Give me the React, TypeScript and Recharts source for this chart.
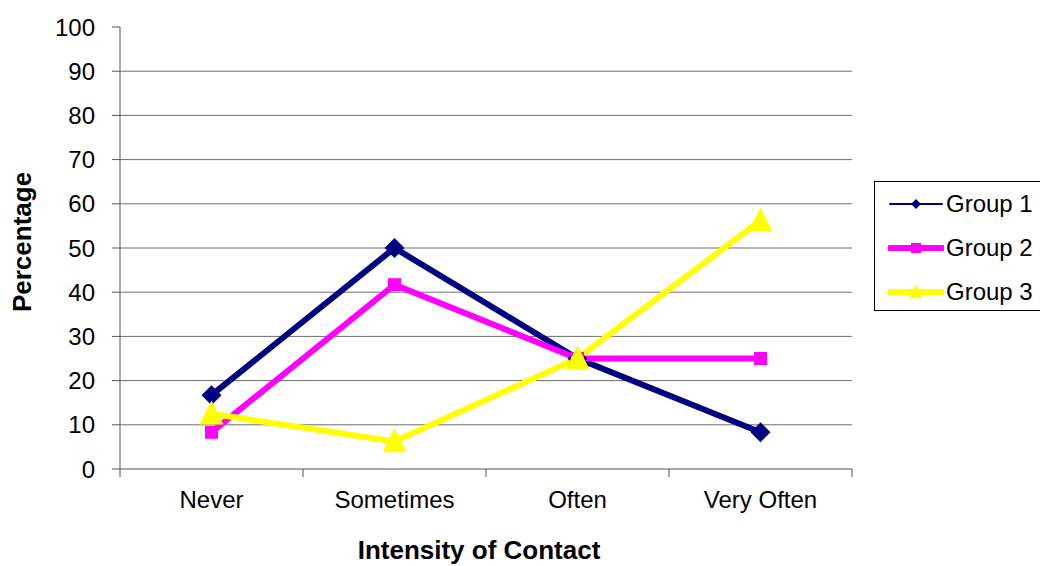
import React from 'react';
import { LineChart, Line, XAxis, YAxis, CartesianGrid, Label } from 'recharts';

const categories = ['Never', 'Sometimes', 'Often', 'Very Often'];
const group1 = [16.7, 50, 25, 8.3];
const group2 = [8.3, 41.7, 25, 25];
const group3 = [12.5, 6.25, 25, 56.25];
const yTicks = [0, 10, 20, 30, 40, 50, 60, 70, 80, 90, 100];
const gridValues = [10, 20, 30, 40, 50, 60, 70, 80, 90];

const data = categories.map((c, i) => ({
  name: c,
  g1: group1[i],
  g2: group2[i],
  g3: group3[i],
}));

const FONT = '"Liberation Sans", Arial, sans-serif';
const NAVY = '#000080';
const MAGENTA = '#FF00FF';
const YELLOW = '#FFFF00';
const AXIS = '#555555';

const Diamond = ({ cx, cy, r, fill }: any) =>
  cx == null ? null : (
    <path d={`M${cx},${cy - r}L${cx + r},${cy}L${cx},${cy + r}L${cx - r},${cy}Z`} fill={fill} />
  );

const Square = ({ cx, cy, s, fill }: any) =>
  cx == null ? null : <rect x={cx - s / 2} y={cy - s / 2} width={s} height={s} fill={fill} />;

const Triangle = ({ cx, cy, s, fill }: any) =>
  cx == null ? null : (
    <path d={`M${cx},${cy - s * 0.55}L${cx + s / 2},${cy + s * 0.45}L${cx - s / 2},${cy + s * 0.45}Z`} fill={fill} />
  );

const XTick = (props: any) => {
  const { x, y, payload, index, width, visibleTicksCount } = props;
  const band = width && visibleTicksCount ? width / visibleTicksCount : 183;
  return (
    <g>
      {index === 0 && <line x1={x - band / 2} x2={x - band / 2} y1={y - 8} y2={y} stroke={AXIS} />}
      <line x1={x + band / 2} x2={x + band / 2} y1={y - 8} y2={y} stroke={AXIS} />
      <text x={x} y={y} dy={31} textAnchor="middle" fontSize={24} fill="#000" fontFamily={FONT}>
        {payload.value}
      </text>
    </g>
  );
};

const legendItems = [
  { label: 'Group 1', color: NAVY, width: 2, marker: 'diamond' },
  { label: 'Group 2', color: MAGENTA, width: 6, marker: 'square' },
  { label: 'Group 3', color: YELLOW, width: 6, marker: 'triangle' },
];

export default function App() {
  return (
    <div style={{ position: 'absolute', left: 0, top: 0, width: 1040, height: 566, overflow: 'hidden', background: '#fff', fontFamily: FONT }}>
      <LineChart width={1040} height={566} data={data} margin={{ top: 27, right: 188, left: 0, bottom: 0 }}>
        <CartesianGrid vertical={false} horizontalValues={gridValues} stroke="#6e6e6e" />
        <XAxis
          dataKey="name"
          scale="band"
          height={97}
          axisLine={{ stroke: AXIS }}
          tickLine={false}
          tickSize={8}
          tickMargin={0}
          tick={<XTick />}
          interval={0}
        >
          <Label
            content={() => (
              <text x={479} y={559} textAnchor="middle" fontSize={26} fontWeight="bold" fontFamily={FONT} fill="#000">
                Intensity of Contact
              </text>
            )}
          />
        </XAxis>
        <YAxis
          width={120}
          domain={[0, 100]}
          ticks={yTicks}
          interval={0}
          axisLine={{ stroke: AXIS }}
          tickLine={{ stroke: AXIS }}
          tickSize={8}
          tickMargin={17}
          tick={{ fontSize: 24, fill: '#000', fontFamily: FONT }}
        >
          <Label
            content={() => (
              <text
                x={31}
                y={242}
                transform="rotate(-90 31 242)"
                textAnchor="middle"
                fontSize={26}
                fontWeight="bold"
                fontFamily={FONT}
                fill="#000"
              >
                Percentage
              </text>
            )}
          />
        </YAxis>
        <Line
          dataKey="g1"
          name="Group 1"
          stroke={NAVY}
          strokeWidth={6}
          isAnimationActive={false}
          dot={(p: any) => <Diamond key={`d1-${p.index}`} cx={p.cx} cy={p.cy} r={10} fill={NAVY} />}
          activeDot={false}
        />
        <Line
          dataKey="g2"
          name="Group 2"
          stroke={MAGENTA}
          strokeWidth={6}
          isAnimationActive={false}
          dot={(p: any) => <Square key={`d2-${p.index}`} cx={p.cx} cy={p.cy} s={13} fill={MAGENTA} />}
          activeDot={false}
        />
        <Line
          dataKey="g3"
          name="Group 3"
          stroke={YELLOW}
          strokeWidth={6}
          isAnimationActive={false}
          dot={(p: any) => <Triangle key={`d3-${p.index}`} cx={p.cx} cy={p.cy} s={24} fill={YELLOW} />}
          activeDot={false}
        />
      </LineChart>
      <div
        style={{
          position: 'absolute',
          left: 874,
          top: 181,
          width: 180,
          height: 130,
          border: '1px solid #000',
          boxSizing: 'border-box',
        }}
      >
        {legendItems.map((it, i) => (
          <div
            key={it.label}
            style={{ position: 'absolute', left: 13, top: 22 + i * 44 - 14, height: 28, display: 'flex', alignItems: 'center' }}
          >
            <svg width={56} height={24}>
              <line x1={2} x2={54} y1={12} y2={12} stroke={it.color} strokeWidth={it.width} strokeLinecap="round" />
              {it.marker === 'diamond' && <Diamond cx={28} cy={12} r={5} fill={it.color} />}
              {it.marker === 'square' && <Square cx={28} cy={12} s={10} fill={it.color} />}
              {it.marker === 'triangle' && <Triangle cx={28} cy={12} s={14} fill={it.color} />}
            </svg>
            <span style={{ fontSize: 24, color: '#000', marginLeft: 2, lineHeight: '28px' }}>{it.label}</span>
          </div>
        ))}
      </div>
    </div>
  );
}
